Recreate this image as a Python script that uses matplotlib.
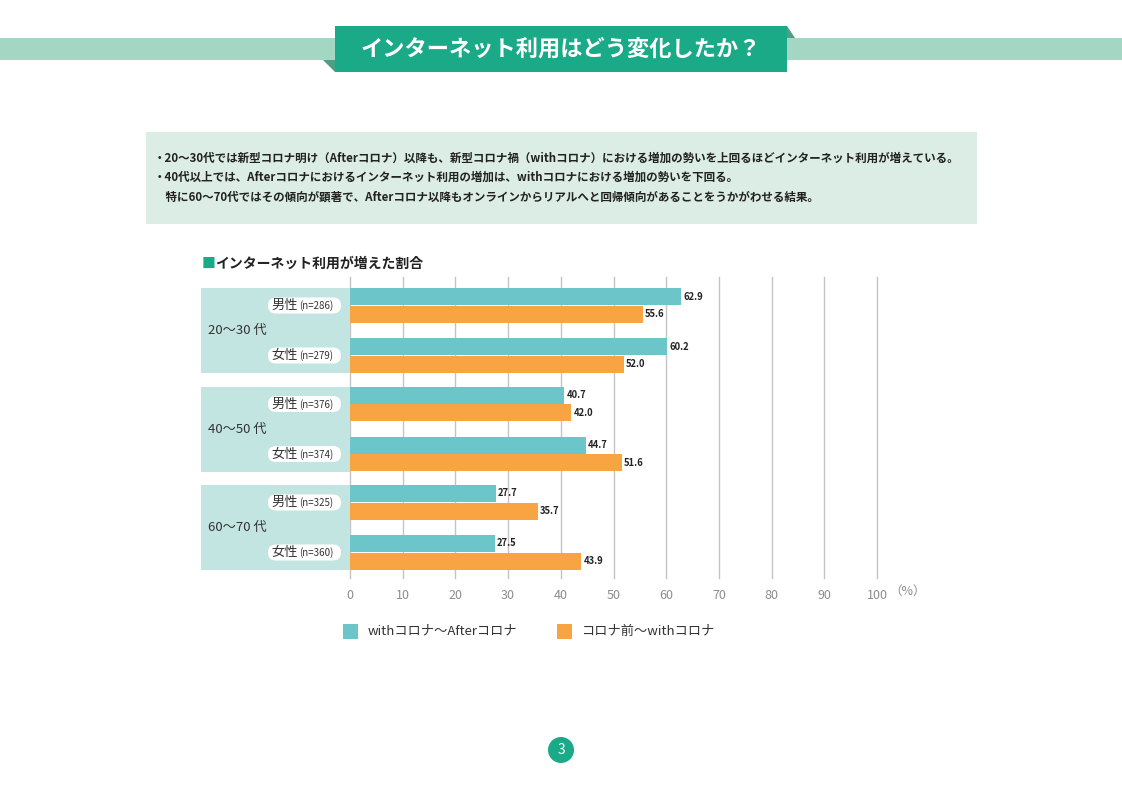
import numpy as np
import matplotlib as mpl
import matplotlib.pyplot as plt
from matplotlib.patches import Rectangle, FancyBboxPatch, Polygon, Circle

plt.rcParams['font.family'] = ['Noto Sans CJK JP', 'DejaVu Sans']

# data
groups = ['20〜30 代', '40〜50 代', '60〜70 代']
genders = ['男性', '女性']
n_sizes = [286, 279, 376, 374, 325, 360]
with_to_after = [62.9, 60.2, 40.7, 44.7, 27.7, 27.5]
before_to_with = [55.6, 52.0, 42.0, 51.6, 35.7, 43.9]
series_labels = ['withコロナ〜Afterコロナ', 'コロナ前〜withコロナ']
xticks = list(range(0, 101, 10))

title = 'インターネット利用はどう変化したか？'
notes = ['・20〜30代では新型コロナ明け（Afterコロナ）以降も、新型コロナ禍（withコロナ）における増加の勢いを上回るほどインターネット利用が増えている。',
         '・40代以上では、Afterコロナにおけるインターネット利用の増加は、withコロナにおける増加の勢いを下回る。',
         '　特に60〜70代ではその傾向が顕著で、Afterコロナ以降もオンラインからリアルへと回帰傾向があることをうかがわせる結果。']
chart_title = 'インターネット利用が増えた割合'

TEAL = '#6cc5c8'
ORANGE = '#f8a442'
GREEN = '#1baa87'
W, H = 1122, 792

fig = plt.figure(figsize=(W / 100, H / 100), dpi=100)
tr = fig.dpi_scale_trans  # inches, 100 px each


def p(x, y):
    # pixel (top-left origin) -> inches
    return (x / 100, (H - y) / 100)


def box(x0, y0, x1, y1, **kw):
    fig.add_artist(Rectangle(p(x0, y1), (x1 - x0) / 100, (y1 - y0) / 100, transform=tr, lw=0, **kw))


def txt(x, y, s, **kw):
    fig.text(*p(x, y), s, transform=tr, **kw)


# header band
box(0, 38, W, 60, color='#a3d7c4')
fig.add_artist(Polygon([p(323, 60), p(335, 60), p(335, 72)], closed=True, transform=tr, color='#4b9f86', lw=0))
fig.add_artist(Polygon([p(787, 26), p(795, 38), p(787, 38)], closed=True, transform=tr, color='#4b9f86', lw=0))
box(335, 26, 787, 72, color=GREEN)
txt(561, 49, title, color='white', fontsize=16, fontweight='bold', ha='center', va='center')

# note box
box(146, 132, 977, 224, color='#dcede5')
for i, line in enumerate(notes):
    txt(154, 158 + i * 19.5, line, fontsize=8.3, fontweight='bold', color='#222222', ha='left', va='center')

# chart title
txt(202, 264, '■', color=GREEN, fontsize=10, ha='left', va='center', fontweight='bold')
txt(215, 264, chart_title, color='#222222', fontsize=10, ha='left', va='center', fontweight='bold')

# group backgrounds and labels
top0, gpitch, spitch, bh = 288, 98.5, 50, 17
for g, grp in enumerate(groups):
    gt = top0 + g * gpitch
    box(201, gt, 350, gt + 85, color='#c3e5e1')
    txt(208, gt + 42.5, grp, fontsize=9.5, color='#333333', ha='left', va='center')
    for s, gen in enumerate(genders):
        yc = gt + s * spitch + bh + 0.5
        fig.add_artist(FancyBboxPatch(p(272, yc + 4), 0.65, 0.08,
                                      boxstyle='round,pad=0.04,rounding_size=0.08',
                                      transform=tr, fc='white', ec='none'))
        txt(298, yc, gen, fontsize=9.5, color='#333333', ha='right', va='center')
        txt(299, yc + 0.5, '(n=%d)' % n_sizes[g * 2 + s], fontsize=7, color='#333333', ha='left', va='center')

# bars
ax = fig.add_axes([350 / W, 1 - 578 / H, (877 - 350) / W, (578 - 277) / H])
ax.set_xlim(0, 100)
ax.set_ylim(578, 277)
ax.set_facecolor('none')
idx = np.arange(len(with_to_after))
teal_y = top0 + (idx // 2) * gpitch + (idx % 2) * spitch + bh / 2
orange_y = teal_y + bh + 0.5
ax.barh(teal_y, with_to_after, height=bh, color=TEAL, zorder=3)
ax.barh(orange_y, before_to_with, height=bh, color=ORANGE, zorder=3)
for y1, v1, y2, v2 in zip(teal_y, with_to_after, orange_y, before_to_with):
    ax.text(v1 + 0.4, y1, '%.1f' % v1, fontsize=6.8, fontweight='bold', color='#222222', ha='left', va='center')
    ax.text(v2 + 0.4, y2, '%.1f' % v2, fontsize=6.8, fontweight='bold', color='#222222', ha='left', va='center')
for t in xticks:
    ax.axvline(t, color='#c4c4c4', lw=1, zorder=1, clip_on=False)
ax.set_xticks(xticks)
ax.set_xticklabels([str(t) for t in xticks])
ax.tick_params(axis='x', length=0, pad=8, labelsize=9, labelcolor='#8c8c8c')
ax.set_yticks([])
for sp in ax.spines.values():
    sp.set_visible(False)
txt(889, 591, '（%）', fontsize=9, color='#8c8c8c', ha='left', va='center')

# legend
for i, (lab, col) in enumerate(zip(series_labels, [TEAL, ORANGE])):
    x0 = 343 + i * 214
    box(x0, 624, x0 + 15, 639, color=col)
    txt(x0 + 25, 631, lab, fontsize=9.5, color='#333333', ha='left', va='center')

# page number
fig.add_artist(Circle(p(561, 750), 0.13, transform=tr, color=GREEN, lw=0))
txt(561, 750, '3', color='white', fontsize=10, ha='center', va='center')

fig.savefig('out.png', dpi=100)
